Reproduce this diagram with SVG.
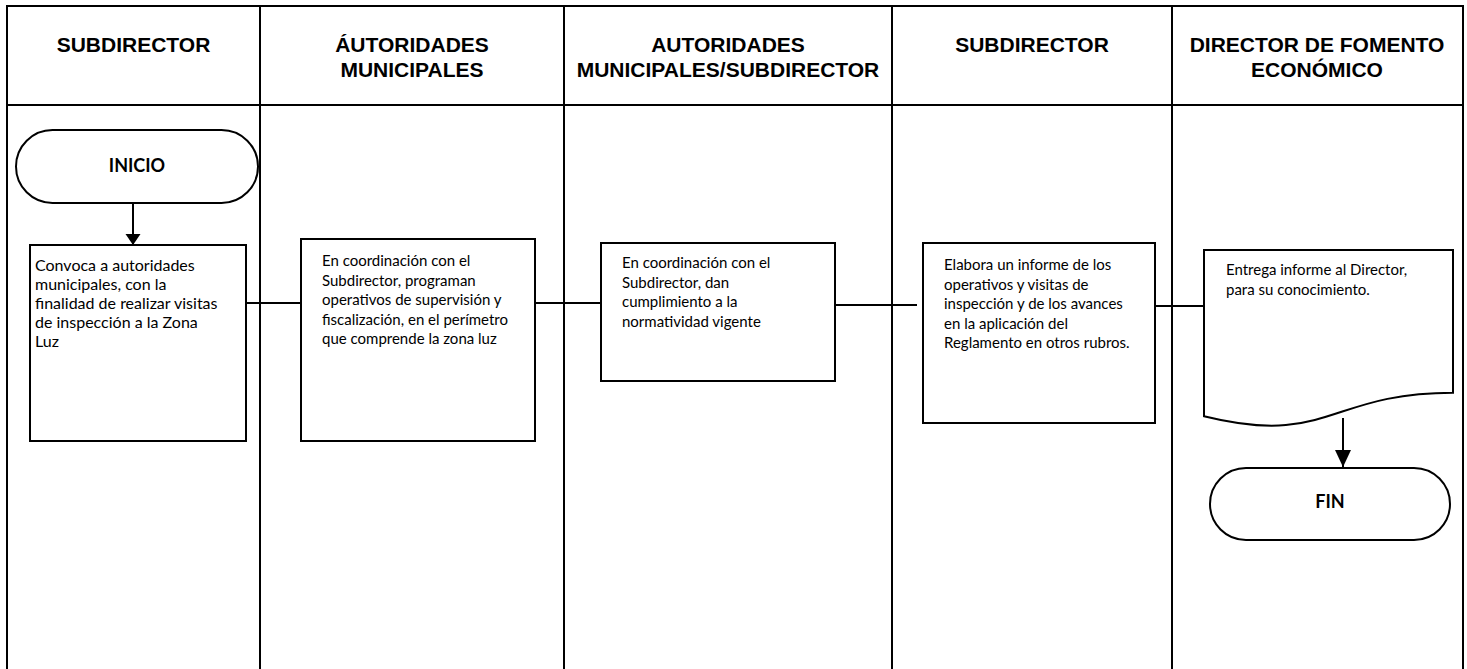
<svg xmlns="http://www.w3.org/2000/svg" width="1467" height="669" viewBox="0 0 1467 669">
<style>
.grid{stroke:#000;stroke-width:2;fill:none}
.hdr{font-family:"Liberation Sans",Arial,sans-serif;font-weight:bold;font-size:21px;fill:#000;text-anchor:middle}
.box{fill:#fff;stroke:#000;stroke-width:2}
.txt{font-family:Lato,"Liberation Sans",sans-serif;font-size:15px;fill:#000}
.txt16{font-family:Lato,"Liberation Sans",sans-serif;font-size:16px;fill:#000}
.term{font-family:Lato,"Liberation Sans",sans-serif;font-weight:bold;font-size:18px;fill:#000;text-anchor:middle}
.con{stroke:#000;stroke-width:2;fill:none}
</style>
<defs>
<marker id="ahS" markerUnits="userSpaceOnUse" markerWidth="16" markerHeight="16" refX="11" refY="8" orient="auto">
<path d="M0,0.5 L11,8 L0,15.5 z" fill="#000"/>
</marker>
<marker id="ahL" markerUnits="userSpaceOnUse" markerWidth="18" markerHeight="18" refX="17" refY="8" orient="auto">
<path d="M0,0 L17,8 L0,16 z" fill="#000"/>
</marker>
</defs>
<rect width="1467" height="669" fill="#fff"/>
<g id="table">
<line class="grid" x1="6" y1="6" x2="1464" y2="6"/>
<line class="grid" x1="6" y1="105" x2="1464" y2="105"/>
<line class="grid" x1="7" y1="5" x2="7" y2="669"/>
<line class="grid" x1="260" y1="5" x2="260" y2="669"/>
<line class="grid" x1="564" y1="5" x2="564" y2="669"/>
<line class="grid" x1="892" y1="5" x2="892" y2="669"/>
<line class="grid" x1="1172" y1="5" x2="1172" y2="669"/>
<line class="grid" x1="1463" y1="5" x2="1463" y2="669"/>
</g>
<g id="headers">
<text class="hdr" x="133.5" y="52">SUBDIRECTOR</text>
<text class="hdr" x="412" y="52">ÁUTORIDADES</text>
<text class="hdr" x="412" y="77">MUNICIPALES</text>
<text class="hdr" x="728" y="52">AUTORIDADES</text>
<text class="hdr" x="728" y="77">MUNICIPALES/SUBDIRECTOR</text>
<text class="hdr" x="1032" y="52">SUBDIRECTOR</text>
<text class="hdr" x="1317" y="52">DIRECTOR DE FOMENTO</text>
<text class="hdr" x="1317" y="77">ECONÓMICO</text>
</g>
<g id="connectors">
<line class="con" x1="133" y1="203" x2="133" y2="245" marker-end="url(#ahS)"/>
<line class="con" x1="246" y1="303" x2="301" y2="303"/>
<line class="con" x1="535" y1="303" x2="601" y2="303"/>
<line class="con" x1="835" y1="305" x2="917" y2="305"/>
<line class="con" x1="1155" y1="306" x2="1204" y2="306"/>
<line class="con" x1="1343" y1="418" x2="1343" y2="467" marker-end="url(#ahL)"/>
</g>
<g id="inicio">
<rect class="box" x="16" y="130" width="242" height="73" rx="36.5" ry="36.5"/>
<text class="term" x="137" y="172">INICIO</text>
</g>
<g id="step1">
<rect class="box" x="30" y="245" width="216" height="196"/>
<text class="txt16" x="35" y="271">Convoca a autoridades</text>
<text class="txt16" x="35" y="290">municipales, con la</text>
<text class="txt16" x="35" y="309">finalidad de realizar visitas</text>
<text class="txt16" x="35" y="328">de inspección a la Zona</text>
<text class="txt16" x="35" y="347">Luz</text>
</g>
<g id="step2">
<rect class="box" x="301" y="239" width="234" height="202"/>
<text class="txt" x="322" y="266">En coordinación con el</text>
<text class="txt" x="322" y="285.5">Subdirector, programan</text>
<text class="txt" x="322" y="305">operativos de supervisión y</text>
<text class="txt" x="322" y="324.5">fiscalización, en el perímetro</text>
<text class="txt" x="322" y="344">que comprende la zona luz</text>
</g>
<g id="step3">
<rect class="box" x="601" y="243" width="234" height="138"/>
<text class="txt" x="622" y="268">En coordinación con el</text>
<text class="txt" x="622" y="287.5">Subdirector, dan</text>
<text class="txt" x="622" y="307">cumplimiento a la</text>
<text class="txt" x="622" y="326.5">normatividad vigente</text>
</g>
<g id="step4">
<rect class="box" x="923" y="243" width="232" height="180"/>
<text class="txt" x="944" y="270">Elabora un informe de los</text>
<text class="txt" x="944" y="289.5">operativos y visitas de</text>
<text class="txt" x="944" y="309">inspección y de los avances</text>
<text class="txt" x="944" y="328.5">en la aplicación del</text>
<text class="txt" x="944" y="348">Reglamento en otros rubros.</text>
</g>
<g id="document">
<path class="box" d="M1204,250 H1453 V392.7 C1328.5,392.7 1328.5,447.1 1204,416.2 Z"/>
<text class="txt" x="1226" y="275">Entrega informe al Director,</text>
<text class="txt" x="1226" y="294.5">para su conocimiento.</text>
</g>
<g id="fin">
<rect class="box" x="1210" y="468" width="240" height="72" rx="36" ry="36"/>
<text class="term" x="1330" y="508">FIN</text>
</g>
</svg>
